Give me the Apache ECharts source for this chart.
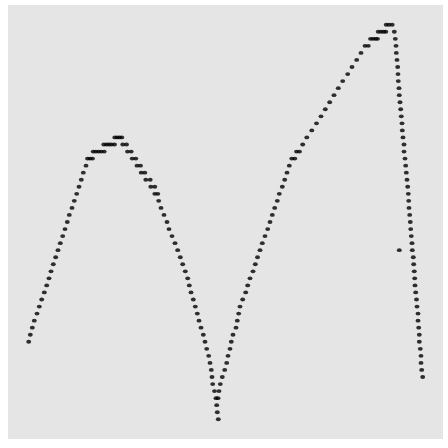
<!DOCTYPE html>
<html><head><meta charset="utf-8">
<script src="https://cdn.jsdelivr.net/npm/echarts@6/dist/echarts.min.js"></script>
<style>html,body{margin:0;padding:0;background:#fff}#c{width:448px;height:448px}</style>
</head><body><div id="c"></div>
<script>
// Left rising arm
const arm1X = [28.7,30.3,32.3,34.3,37,39.3,41.7,44.3,46.7,49,51,53.3,55.7,58,60.3,62.7,65,67.3,69.3,72,74.3,76.7,79,81.3,83.3,86,
  87.5,90,92.5, 93.2,95.8,98.5,101.2,104.2, 103.8,106.5,109,111.5,114.5, 114.8,117.2,119.5,121.8];
const arm1Y = [11,12,13,14,15,16,17,18,19,20,21,22,23,24,25,26,27,28,29,30,31,32,33,34,35,36,
  37,37,37, 38,38,38,38,38, 39,39,39,39,39, 40,40,40,40];
// Left falling arm
const arm2X = [122.8,126.5, 127.5,131.2, 132.2,135.8, 137,140.5, 141.2,144.8, 145.8,150.2, 150.8,154.8, 154.8,157.8,
  158.7,161,164,167,169,172,175,177.7,180.3,182.7,185.3,187.7,189.3,191,193.3,195.3,197.3,199,201,203.3,205,206.7,208.7,210,211.3,212,212.7,214.5,
  216,218, 216.7,217.3,218.3];
const arm2Y = [39,39, 38,38, 37,37, 36,36, 35,35, 34,34, 33,33, 32,32,
  31,30,29,28,27,26,25,24,23,22,21,20,19,18,17,16,15,14,13,12,11,10,9,8,7,6,5,4,
  3,3, 2,1,0];
// Right rising arm
const arm3X = [219,220.3,222.3,224.7,226.7,228,230,231.3,233,236,237.3,238.7,240,242.7,245.7,247.7,250,253,255.3,257.5,260,262.3,265,267.7,270,272.3,274.7,277.3,279.3,282.3,284.7,287,289.3,
  291.8,294.8, 296.5,299.5, 302.7,306.8,311.8,316.5,321,325.3,329.7,334,338.3,342.7,347.7,352,356.7,361,
  365,368.3, 370.5,373,375.5,377.5, 378.2,381,383.5,385.8, 386.2,389,392.2];
const arm3Y = [4,5,6,7,8,9,10,11,12,13,14,15,16,17,18,19,20,21,22,23,24,25,26,27,28,29,30,31,32,33,34,35,36,
  37,37, 38,38, 39,40,41,42,43,44,45,46,47,48,49,50,51,52,
  53,53, 54,54,54,54, 55,55,55,55, 56,56,56];
// Right falling arm
const arm4X = [394.3,395.3,396,396.3,397,397.7,398,398.3,399,399.3,400,400.7,401.3,402,402.3,403,404,404,405,405.7,406.3,407,407.7,408.3,408.7,409,409.7,410.3,410.7,411.3,412,412.3,413.3,413.7,414.3,414.7,415,415.7,416.5,417,418,418,418.7,419.3,419.3,420.3,421,421,421.7,422.7];
const arm4Y = [55,54,53,52,51,50,49,48,47,46,45,44,43,42,41,40,39,38,37,36,35,34,33,32,31,30,29,28,27,26,25,24,23,22,21,20,19,18,17,16,15,14,13,12,11,10,9,8,7,6];
// Stray point
const strayX = [399.3];
const strayY = [24];

const xs = [].concat(arm1X, arm2X, arm3X, arm4X, strayX);
const ys = [].concat(arm1Y, arm2Y, arm3Y, arm4Y, strayY);
const data = xs.map((x, i) => [x, ys[i]]);

const chart = echarts.init(document.getElementById('c'), null, {renderer: 'canvas'});
chart.setOption({
  animation: false,
  backgroundColor: '#ffffff',
  grid: {left: 8, top: 5, right: 5, bottom: 9, show: true, backgroundColor: '#E5E5E5', borderWidth: 0},
  xAxis: {type: 'value', min: 8, max: 443, show: false},
  yAxis: {type: 'value', min: -2.8, max: 58.8, show: false},
  series: [{
    type: 'scatter',
    data: data,
    symbol: 'circle',
    symbolSize: [4.9, 3.8],
    itemStyle: {color: '#000000'}
  }]
});
</script></body></html>
